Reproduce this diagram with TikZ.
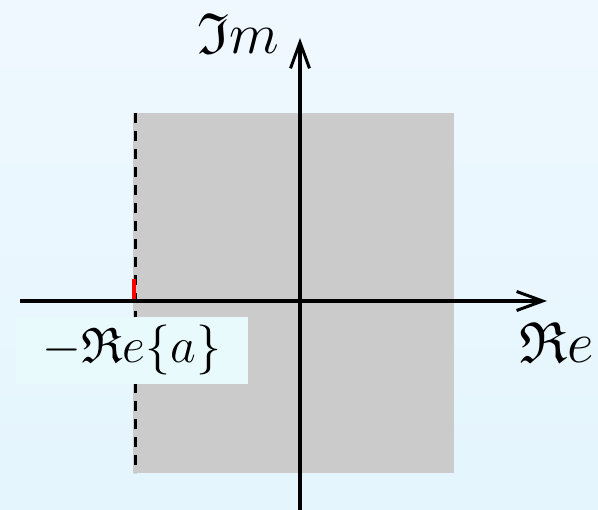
\RequirePackage{fix-cm}
\documentclass[tikz,border=0pt]{standalone}
\usepackage{amssymb}
\usetikzlibrary{arrows.meta}
\definecolor{bgtop}{RGB}{239,248,254}
\definecolor{bgbot}{RGB}{228,245,253}
\definecolor{regiongray}{RGB}{203,203,203}
\definecolor{labelfill}{RGB}{233,250,253}
\begin{document}
\begin{tikzpicture}[x=1pt,y=-1pt,
  axisline/.style={line width=3.8pt,-{Straight Barb[length=26pt,width=19pt,line width=3pt]}},
  axlabel/.style={font=\fontsize{58}{60}\selectfont, inner sep=0pt},
  regionlabel/.style={font=\fontsize{50}{54}\selectfont, fill=labelfill, inner sep=0pt,
    minimum width=232pt, minimum height=67pt},
  boundary/.style={line width=3pt, dash pattern=on 10pt off 8pt, black},
  tick/.style={line width=4pt, red}]
  % background
  \useasboundingbox (0,0) rectangle (598,510);
  \shade[top color=bgtop, bottom color=bgbot] (0,0) rectangle (598,510);
  % region
  \fill[regiongray] (133,113) rectangle (454,473);
  % boundary line
  \coordinate (bt) at (135,113);
  \coordinate (bb) at (135,473);
  \draw[boundary] (bt) -- (bb);
  % red tick
  \coordinate (tt) at (134,279);
  \coordinate (tb) at (134,300);
  \draw[tick] (tt) -- (tb);
  % axes
  \coordinate (xs) at (20,301);
  \coordinate (xe) at (547,301);
  \coordinate (ys) at (300,510);
  \coordinate (ye) at (300,38);
  \draw[axisline] (xs) -- (xe);
  \draw[axisline] (ys) -- (ye);
  % labels
  \node[axlabel, anchor=base] (im) at (238,54) {$\mathfrak{I}m$};
  \node[axlabel, anchor=base] (re) at (557,363) {$\mathfrak{R}e$};
  \node[regionlabel] (lab) at (132,350.5) {$-\mathfrak{R}e\{a\}$};
\end{tikzpicture}
\end{document}
